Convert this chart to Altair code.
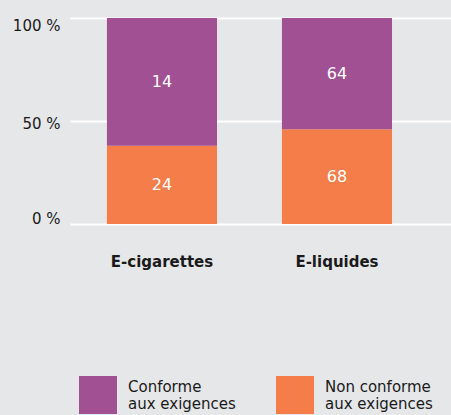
import altair as alt
import pandas as pd

products = ["E-cigarettes", "E-liquides"]
statuses = ["Conforme\naux exigences", "Non conforme\naux exigences"]
count_conforme = [14, 64]
count_non_conforme = [24, 68]
# height of the orange (non conforme) part as drawn, in %
share_non_conforme = [38, 46]
colors = ["#a15193", "#f47d4a"]
y_ticks = [0, 50, 100]

rows = []
for i, p in enumerate(products):
    non = share_non_conforme[i]
    rows.append({"product": p, "status": statuses[1], "start": 0, "end": non,
                 "mid": non / 2, "count": count_non_conforme[i]})
    rows.append({"product": p, "status": statuses[0], "start": non, "end": 100,
                 "mid": (non + 100) / 2, "count": count_conforme[i]})
df = pd.DataFrame(rows)

FONT = "DejaVu Sans"

x_enc = alt.X(
    "product:N",
    sort=products,
    scale=alt.Scale(paddingInner=0.371, paddingOuter=0.274, align=0.385),
    axis=alt.Axis(title=None, labelAngle=0, ticks=False, domain=False,
                  labelFont=FONT, labelFontSize=15, labelFontWeight="bold",
                  labelColor="#1a1a1a", labelPadding=30, grid=False),
)

bars = alt.Chart(df).mark_bar().encode(
    x=x_enc,
    y=alt.Y("start:Q", scale=alt.Scale(domain=[0, 100], nice=False),
            axis=alt.Axis(title=None, values=y_ticks, labelExpr="datum.value + ' %'",
                          ticks=False, domain=False, grid=True, gridColor="#ffffff",
                          gridWidth=2, labelFont=FONT, labelFontSize=15,
                          labelColor="#1a1a1a", labelPadding=10,
                          labelOffset={"condition": [
                              {"test": "datum.value == 0", "value": -6},
                              {"test": "datum.value == 50", "value": 2}],
                              "value": 7})),
    y2="end:Q",
    color=alt.Color("status:N", scale=alt.Scale(domain=statuses, range=colors),
                    legend=alt.Legend(title=None, orient="none", legendX=9, legendY=358,
                                      direction="horizontal", symbolType="square",
                                      symbolSize=1444, symbolStrokeWidth=0,
                                      symbolOpacity=1, labelFont=FONT, labelFontSize=15,
                                      labelColor="#1a1a1a", labelOffset=11,
                                      labelBaseline="bottom",
                                      columnPadding=40,
                                      labelExpr="split(datum.label, '\\n')")),
)

labels = alt.Chart(df).mark_text(color="white", fontSize=16, font=FONT).encode(
    x=alt.X("product:N", sort=products),
    y=alt.Y("mid:Q"),
    text="count:Q",
)

chart = alt.layer(bars, labels).properties(
    width=381, height=206,
    padding={"left": 70, "top": 18, "right": 0, "bottom": 191},
    autosize="none",
    background="#e6e7e9",
).configure_view(stroke=None)

chart.save("out.html", embed_options={"renderer": "svg", "actions": False})
